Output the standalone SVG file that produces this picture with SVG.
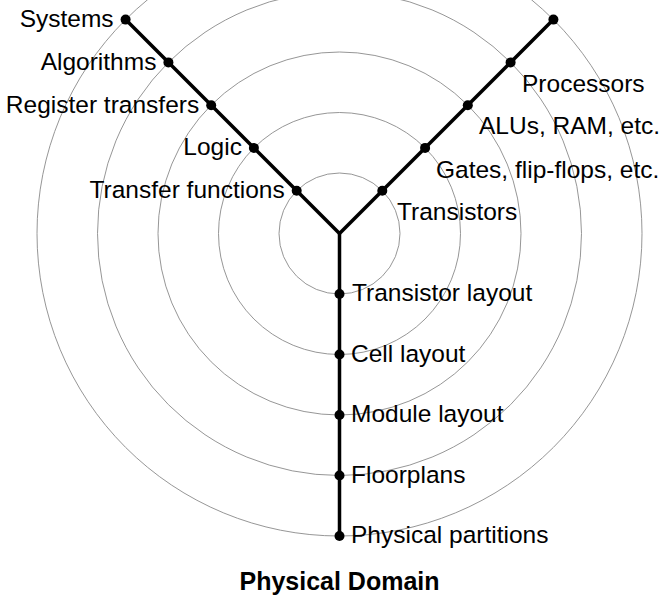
<svg xmlns="http://www.w3.org/2000/svg" width="671" height="595" viewBox="0 0 671 595">
<style>
.ring{fill:none;stroke:#8a8a8a;stroke-width:0.9}
.axis{fill:none;stroke:#000;stroke-width:3.5;stroke-linejoin:miter;stroke-linecap:butt}
.dot{fill:#000}
text{font-family:"Liberation Sans",Arial,sans-serif;font-size:24.5px;fill:#000}
.l{text-anchor:end}
.title{font-weight:bold;font-size:25px;text-anchor:middle}
</style>
<rect width="671" height="595" fill="#fff"/>
<g id="rings">
<circle class="ring" cx="339.5" cy="233.5" r="60.5"/>
<circle class="ring" cx="339.5" cy="233.5" r="121"/>
<circle class="ring" cx="339.5" cy="233.5" r="181.5"/>
<circle class="ring" cx="339.5" cy="233.5" r="242"/>
<circle class="ring" cx="339.5" cy="233.5" r="302.5"/>
</g>
<g id="connectors">
<path class="axis" d="M125.6,19.6 L339.5,233.5 L553.4,19.6"/>
<path class="axis" d="M339.5,233.5 V536"/>
</g>
<g id="behavioral">
<g id="systems"><circle class="dot" cx="125.6" cy="19.6" r="5"/><text class="l" x="113.6" y="27.1">Systems</text></g>
<g id="algorithms"><circle class="dot" cx="168.4" cy="62.4" r="5"/><text class="l" x="156.4" y="69.9">Algorithms</text></g>
<g id="register-transfers"><circle class="dot" cx="211.2" cy="105.2" r="5"/><text class="l" x="199.2" y="112.7">Register transfers</text></g>
<g id="logic"><circle class="dot" cx="253.9" cy="147.9" r="5"/><text class="l" x="241.9" y="155.4">Logic</text></g>
<g id="transfer-functions"><circle class="dot" cx="296.7" cy="190.7" r="5"/><text class="l" x="284.7" y="198.2">Transfer functions</text></g>
</g>
<g id="structural">
<g id="top-right"><circle class="dot" cx="553.4" cy="19.6" r="5"/></g>
<g id="processors"><circle class="dot" cx="510.6" cy="62.4" r="5"/><text x="522" y="91.5">Processors</text></g>
<g id="alus"><circle class="dot" cx="467.8" cy="105.2" r="5"/><text x="479" y="134">ALUs, RAM, etc.</text></g>
<g id="gates"><circle class="dot" cx="425.1" cy="147.9" r="5"/><text x="436" y="178">Gates, flip-flops, etc.</text></g>
<g id="transistors"><circle class="dot" cx="382.3" cy="190.7" r="5"/><text x="397" y="220">Transistors</text></g>
</g>
<g id="physical">
<g id="transistor-layout"><circle class="dot" cx="339.5" cy="294" r="5"/><text x="352" y="301">Transistor layout</text></g>
<g id="cell-layout"><circle class="dot" cx="339.5" cy="354.5" r="5"/><text x="351" y="361.5">Cell layout</text></g>
<g id="module-layout"><circle class="dot" cx="339.5" cy="415" r="5"/><text x="351" y="421.5">Module layout</text></g>
<g id="floorplans"><circle class="dot" cx="339.5" cy="475.5" r="5"/><text x="351" y="482.5">Floorplans</text></g>
<g id="physical-partitions"><circle class="dot" cx="339.5" cy="536" r="5"/><text x="351" y="543">Physical partitions</text></g>
</g>
<g id="domain-title"><text class="title" x="339.5" y="590">Physical Domain</text></g>
</svg>
